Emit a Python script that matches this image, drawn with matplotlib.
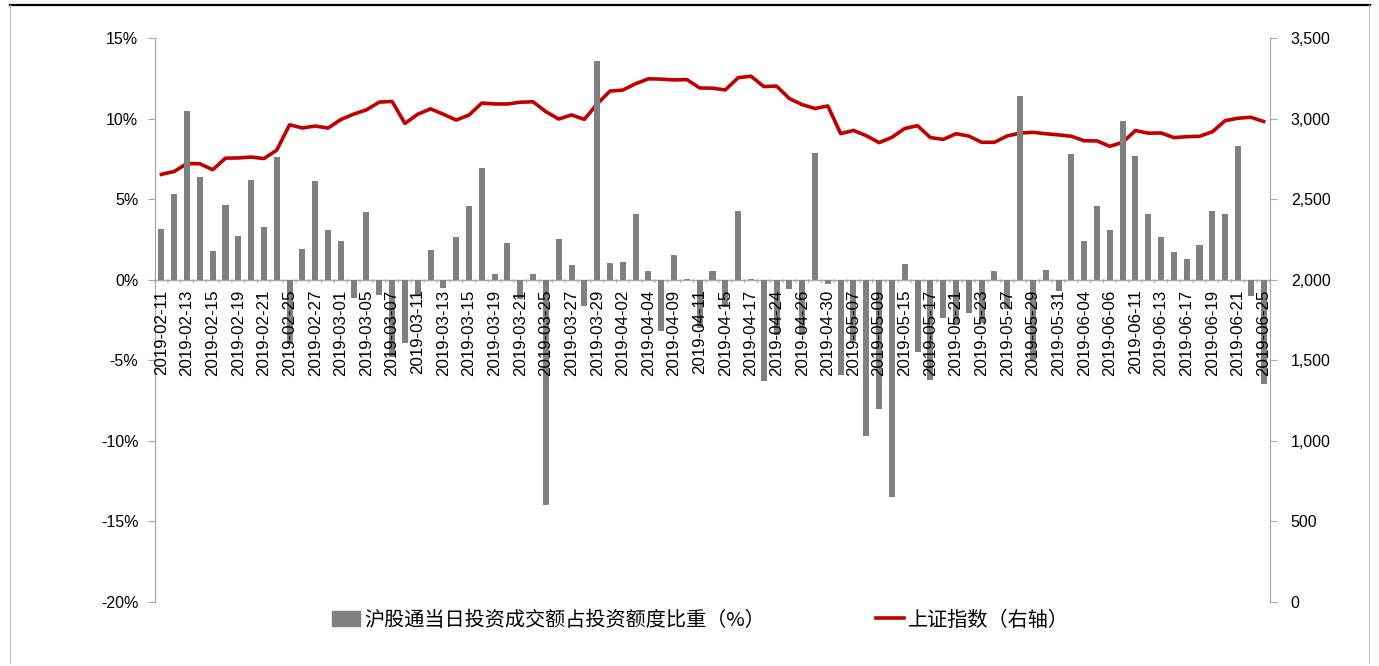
import matplotlib
matplotlib.use("Agg")
import matplotlib.pyplot as plt
from matplotlib.lines import Line2D
from matplotlib.patches import Rectangle
from matplotlib.ticker import FuncFormatter

plt.rcParams['font.family'] = ['Liberation Sans', 'Noto Sans CJK SC', 'DejaVu Sans']

dates = [
    "2019-02-11", "2019-02-12", "2019-02-13", "2019-02-14", "2019-02-15", "2019-02-18", "2019-02-19",
    "2019-02-20", "2019-02-21", "2019-02-22", "2019-02-25", "2019-02-26", "2019-02-27", "2019-02-28",
    "2019-03-01", "2019-03-04", "2019-03-05", "2019-03-06", "2019-03-07", "2019-03-08", "2019-03-11",
    "2019-03-12", "2019-03-13", "2019-03-14", "2019-03-15", "2019-03-18", "2019-03-19", "2019-03-20",
    "2019-03-21", "2019-03-22", "2019-03-25", "2019-03-26", "2019-03-27", "2019-03-28", "2019-03-29",
    "2019-04-01", "2019-04-02", "2019-04-03", "2019-04-04", "2019-04-08", "2019-04-09", "2019-04-10",
    "2019-04-11", "2019-04-12", "2019-04-15", "2019-04-16", "2019-04-17", "2019-04-23", "2019-04-24",
    "2019-04-25", "2019-04-26", "2019-04-29", "2019-04-30", "2019-05-06", "2019-05-07", "2019-05-08",
    "2019-05-09", "2019-05-14", "2019-05-15", "2019-05-16", "2019-05-17", "2019-05-20", "2019-05-21",
    "2019-05-22", "2019-05-23", "2019-05-24", "2019-05-27", "2019-05-28", "2019-05-29", "2019-05-30",
    "2019-05-31", "2019-06-03", "2019-06-04", "2019-06-05", "2019-06-06", "2019-06-10", "2019-06-11",
    "2019-06-12", "2019-06-13", "2019-06-14", "2019-06-17", "2019-06-18", "2019-06-19", "2019-06-20",
    "2019-06-21", "2019-06-24", "2019-06-25",
]

# 沪股通当日投资成交额占投资额度比重 (%)
ratio = [
    3.17, 5.32, 10.5, 6.36, 1.78, 4.62, 2.71, 6.21, 3.27, 7.6,
    -4.0, 1.93, 6.15, 3.06, 2.42, -1.16, 4.2, -0.95, -4.8, -3.95,
    -1.0, 1.82, -0.52, 2.67, 4.55, 6.96, 0.37, 2.28, -1.2, 0.37,
    -14.0, 2.53, 0.91, -1.66, 13.58, 1.06, 1.12, 4.06, 0.52, -3.2,
    1.55, 0.03, -3.0, 0.52, -1.7, 4.27, 0.03, -6.27, -3.4, -0.6,
    -3.4, 7.89, -0.27, -5.9, -3.8, -9.69, -8.03, -13.46, 0.99, -4.51,
    -6.23, -2.4, -2.8, -2.09, -2.7, 0.52, -1.8, 11.39, -5.0, 0.62,
    -0.7, 7.8, 2.42, 4.6, 3.1, 9.88, 7.66, 4.06, 2.67, 1.72,
    1.3, 2.15, 4.24, 4.06, 8.28, -1.04, -6.5,
]

# 上证指数 (右轴)
sse = [
    2653.9, 2671.9, 2721.1, 2719.7, 2682.4, 2754.4, 2755.6, 2761.2, 2751.8, 2804.2,
    2961.3, 2941.5, 2953.8, 2940.9, 2994.0, 3027.6, 3054.3, 3102.1, 3106.4, 2969.9,
    3026.9, 3060.3, 3026.9, 2990.7, 3021.8, 3096.4, 3090.6, 3090.6, 3101.5, 3104.1,
    3043.0, 2997.1, 3022.7, 2994.9, 3090.8, 3170.4, 3176.8, 3216.3, 3246.6, 3244.8,
    3239.7, 3241.9, 3189.9, 3188.6, 3177.8, 3253.6, 3263.1, 3198.6, 3201.6, 3123.8,
    3086.4, 3062.5, 3078.3, 2906.5, 2926.4, 2893.8, 2850.9, 2883.6, 2938.7, 2955.7,
    2882.3, 2870.6, 2905.8, 2891.7, 2852.5, 2853.0, 2892.4, 2909.9, 2914.7, 2905.8,
    2898.7, 2890.1, 2862.3, 2861.4, 2827.8, 2852.1, 2925.7, 2909.4, 2910.7, 2882.0,
    2887.6, 2890.2, 2917.8, 2987.1, 3002.0, 3008.2, 2982.1,
]

left_ticks = [-20, -15, -10, -5, 0, 5, 10, 15]
right_ticks = [0, 500, 1000, 1500, 2000, 2500, 3000, 3500]
bar_label = "沪股通当日投资成交额占投资额度比重（%）"
line_label = "上证指数（右轴）"

W, H = 1379, 666
fig = plt.figure(figsize=(W / 100, H / 100), dpi=100)
ax = fig.add_axes([155 / W, 1 - 602 / H, (1270 - 155) / W, (602 - 38) / H])
ax2 = ax.twinx()

x = list(range(len(dates)))
ax.bar(x, ratio, width=0.47, color="#808080", zorder=2)
ax2.plot(x, sse, color="#C00000", linewidth=2.6, zorder=3, solid_joinstyle="round")

ax.set_zorder(ax2.get_zorder() + 1)
ax.patch.set_visible(False)

ax.set_xlim(-0.5, len(dates) - 0.5)
ax.set_ylim(-20, 15)
ax2.set_ylim(0, 3500)
ax.set_yticks(left_ticks)
ax.yaxis.set_major_formatter(FuncFormatter(lambda v, p: f"{int(v)}%"))
ax2.set_yticks(right_ticks)
ax2.yaxis.set_major_formatter(FuncFormatter(lambda v, p: f"{int(v):,}"))

spine_col = "#A6A6A6"
for a in (ax, ax2):
    for s in a.spines.values():
        s.set_visible(False)
ax.spines['left'].set_visible(True)
ax.spines['left'].set_color(spine_col)
ax2.spines['right'].set_visible(True)
ax2.spines['right'].set_color(spine_col)

ax.tick_params(axis='y', direction='out', length=5, color=spine_col, labelsize=11.5, pad=7)
ax2.tick_params(axis='y', direction='out', length=5, color=spine_col, labelsize=11.5, pad=10)

# zero line as category axis
ax.axhline(0, color=spine_col, linewidth=1.0, zorder=1)
ax.set_xticks([])
lab_idx = list(range(0, len(dates), 2))
for i in lab_idx:
    ax.annotate(dates[i], xy=(i, 0), xycoords='data', xytext=(0, -7), textcoords='offset points',
                rotation=90, ha='center', va='top', fontsize=12.2, zorder=6)
# small tick marks at category boundaries
for b in range(len(dates) + 1):
    ax.annotate("", xy=(b - 0.5, 0), xycoords='data', xytext=(0, -4), textcoords='offset points',
                arrowprops=dict(arrowstyle='-', color=spine_col, lw=0.8))

handles = [Rectangle((0, 0), 1, 1, color="#808080"),
           Line2D([0], [0], color="#C00000", linewidth=2.6)]
fig.legend(handles, [bar_label, line_label], loc='center', bbox_to_anchor=(0.508, 1 - 620 / H),
           ncol=2, frameon=False, columnspacing=5.5, handlelength=1.4, handletextpad=0.2,
           prop={'family': ['Noto Sans CJK SC', 'DejaVu Sans'], 'size': 14.5})

# frame lines
fig.add_artist(Line2D([10 / W, 1370 / W], [1 - 5 / H, 1 - 5 / H], color='black', linewidth=1.6))
fig.add_artist(Line2D([10 / W, 10 / W], [1 - 5 / H, 0.004], color='#BFBFBF', linewidth=0.8))
fig.add_artist(Line2D([1369 / W, 1369 / W], [1 - 5 / H, 0.004], color='#BFBFBF', linewidth=0.8))

fig.savefig("out.png", dpi=100)
